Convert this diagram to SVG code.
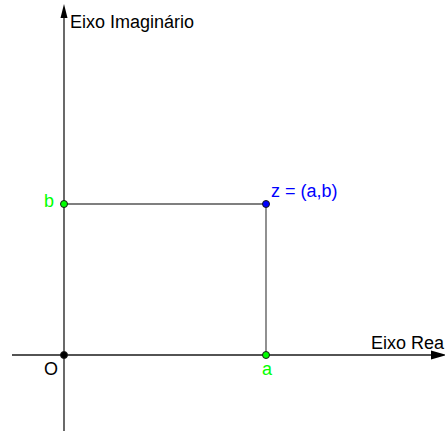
<svg xmlns="http://www.w3.org/2000/svg" width="445" height="432" viewBox="0 0 445 432">
<style>
.axis{stroke:#1a1a1a;stroke-width:1.3;fill:none}
.seg{stroke:#555;stroke-width:1.3;fill:none}
.pt{stroke:#1a1a1a;stroke-width:1}
text{font-family:"Liberation Sans",Arial,sans-serif;font-size:18px}
</style>
<rect width="445" height="432" fill="#fff"/>
<g id="connectors">
<line class="axis" x1="64" y1="14" x2="64" y2="431"/>
<line class="axis" x1="12" y1="355" x2="436" y2="355"/>
<path d="M64,4 L67.5,18 L60.5,18 Z" fill="#000"/>
<path d="M447,355 L431,350.5 L431,359.5 Z" fill="#000"/>
<line class="seg" x1="64" y1="204" x2="266" y2="204"/>
<line class="seg" x1="266" y1="204" x2="266" y2="355"/>
</g>
<g id="label-imag"><text x="70" y="28" fill="#000">Eixo Imaginário</text></g>
<g id="label-real"><text x="371" y="349" fill="#000">Eixo Rea</text></g>
<g id="O"><circle class="pt" cx="64" cy="355" r="3.5" fill="#000"/><text x="44" y="375" fill="#000">O</text></g>
<g id="a"><circle class="pt" cx="266" cy="355" r="3.5" fill="#00ff00"/><text x="262" y="375" fill="#00ff00">a</text></g>
<g id="b"><circle class="pt" cx="64" cy="204" r="3.5" fill="#00ff00"/><text x="44" y="207" fill="#00ff00">b</text></g>
<g id="z"><circle class="pt" cx="266" cy="204" r="3.5" fill="#0000ff"/><text x="271" y="197" fill="#0000ff">z = (a,b)</text></g>
</svg>
